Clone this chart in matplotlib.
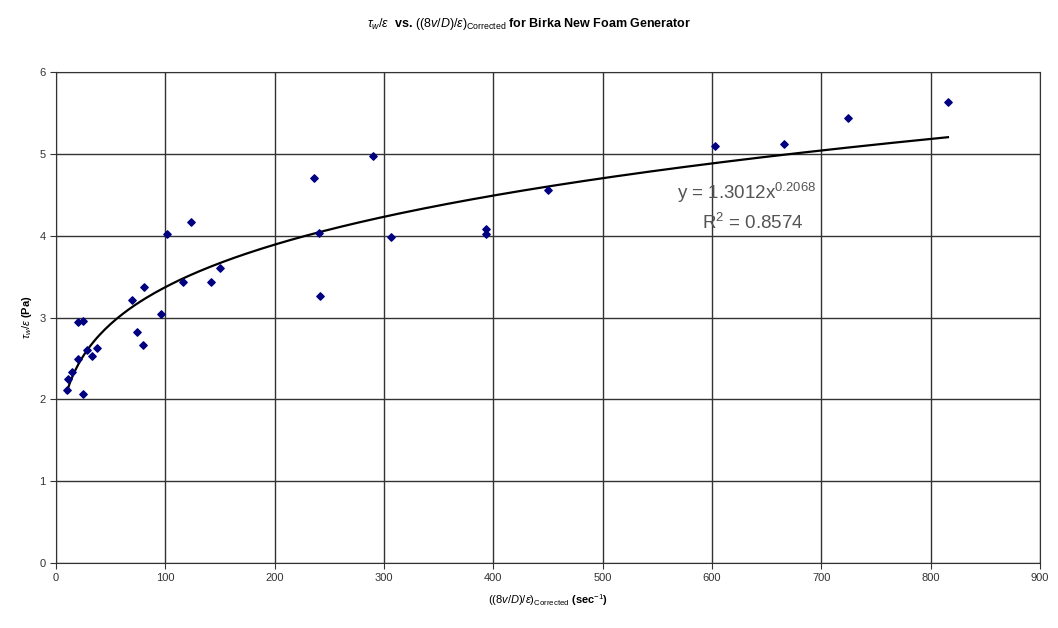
import numpy as np
import matplotlib
matplotlib.use('Agg')
import matplotlib.pyplot as plt

plt.rcParams['font.family'] = ['Liberation Sans', 'DejaVu Sans']
plt.rcParams['mathtext.fontset'] = 'custom'
plt.rcParams['mathtext.rm'] = 'Liberation Sans'
plt.rcParams['mathtext.it'] = 'Liberation Sans:italic'
plt.rcParams['mathtext.bf'] = 'Liberation Sans:bold'

# measured data: shear rate (corrected) vs wall shear stress / eps
shear_rate = [9.8, 11.3, 14.3, 20.4, 28, 32.6, 37.8, 25, 20.4, 25,
              69.2, 74.4, 79.9, 80.8, 96, 101.6, 115.9, 123.5, 141.5, 150,
              236, 240.6, 241.5, 289.7, 306.2, 393, 393, 450,
              602.3, 665.8, 724, 815.8]
stress = [2.11, 2.25, 2.33, 2.49, 2.60, 2.53, 2.63, 2.07, 2.95, 2.96,
          3.22, 2.82, 2.66, 3.37, 3.04, 4.02, 3.43, 4.17, 3.43, 3.61,
          4.71, 4.04, 3.27, 4.98, 3.99, 4.08, 4.02, 4.56,
          5.10, 5.12, 5.44, 5.63]

# power-law trendline
coef_a = 1.3012
coef_b = 0.2068
fit_start, fit_end = 9.8, 815.8

x_ticks = [0, 100, 200, 300, 400, 500, 600, 700, 800, 900]
y_ticks = [0, 1, 2, 3, 4, 5, 6]

fig = plt.figure(figsize=(10.58, 6.28), dpi=100)
ax = fig.add_axes([0.0529, 0.1035, 0.9301, 0.7815])

xf = np.linspace(fit_start, fit_end, 300)
ax.plot(xf, coef_a * xf ** coef_b, color='black', lw=1.6, zorder=3)
ax.scatter(shear_rate, stress, marker='D', s=14, color='#000080', zorder=4)

ax.set_xlim(0, 900)
ax.set_ylim(0, 6)
ax.set_xticks(x_ticks)
ax.set_yticks(y_ticks)
ax.grid(True, color='#333333', lw=1.0)
ax.set_axisbelow(True)
for sp in ax.spines.values():
    sp.set_color('#333333')
ax.tick_params(labelsize=8, length=4, direction='out', colors='#333333')

ax.text(632, 4.53, r'y = 1.3012x$^{0.2068}$', fontsize=13.5, color='#555555',
        ha='center', va='center')
ax.text(637, 4.16, r'R$^{2}$ = 0.8574', fontsize=13.5, color='#555555',
        ha='center', va='center')

ax.set_xlabel(r'$((8v/D)/\varepsilon)_{\mathrm{Corrected}}$ (sec$^{-1}$)',
              fontsize=8, fontweight='bold', labelpad=6)
ax.set_ylabel(r'$\tau_w/\varepsilon$ (Pa)', fontsize=8, fontweight='bold')
fig.suptitle(r'$\tau_w/\varepsilon$  vs. $((8v/D)/\varepsilon)_{\mathrm{Corrected}}$ for Birka New Foam Generator',
             fontsize=9, fontweight='bold', y=0.975)

fig.savefig('out.png', dpi=100)
